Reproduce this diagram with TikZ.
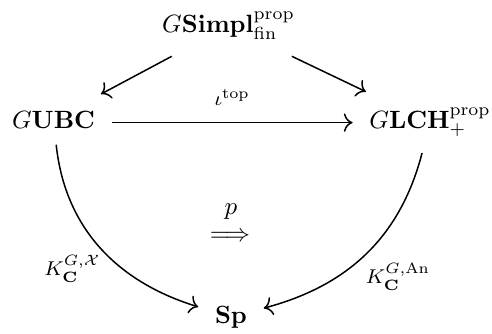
\documentclass[tikz,border=0pt]{standalone}
\usepackage{amsmath,amssymb}
\usetikzlibrary{arrows.meta}
\begin{document}
\begin{tikzpicture}[x=0.4pt,y=-0.4pt,
  obj/.style={inner sep=6.5pt, anchor=base},
  lab/.style={font=\footnotesize, inner sep=0pt, anchor=base},
  arr/.style={line width=0.6pt, -{Computer Modern Rightarrow[scale=1.2]}}]
\useasboundingbox (0,0) rectangle (492,333);
\node[obj] (simpl) at (228.5,32) {$G\mathbf{Simpl}^{\mathrm{prop}}_{\mathrm{fin}}$};
\node[obj] (ubc) at (53.5,128) {$G\mathbf{UBC}$};
\node[obj] (lch) at (430,128) {$G\mathbf{LCH}^{\mathrm{prop}}_{+}$};
\node[obj] (sp) at (231,323) {$\mathbf{Sp}$};
\draw[arr] (simpl) -- (ubc);
\draw[arr] (simpl) -- (lch);
\draw[arr] (ubc.mid east) -- node[lab, yshift=7pt] (iota) {$\iota^{\mathrm{top}}$} (lch.mid west);
\draw[arr] (ubc) .. controls (65,228) and (117,282) .. (sp);
\draw[arr] (lch) .. controls (400,238) and (347,286) .. (sp);
\node[lab] (kx) at (72.5,275) {$K^{G,\mathcal{X}}_{\mathbf{C}}$};
\node[lab] (kan) at (398,283) {$K^{G,\mathrm{An}}_{\mathbf{C}}$};
\node[anchor=base, inner sep=0pt] (nat) at (230,241) {$\Longrightarrow$};
\node[anchor=base, inner sep=0pt] (pl) at (231,214) {$p$};
\end{tikzpicture}
\end{document}
